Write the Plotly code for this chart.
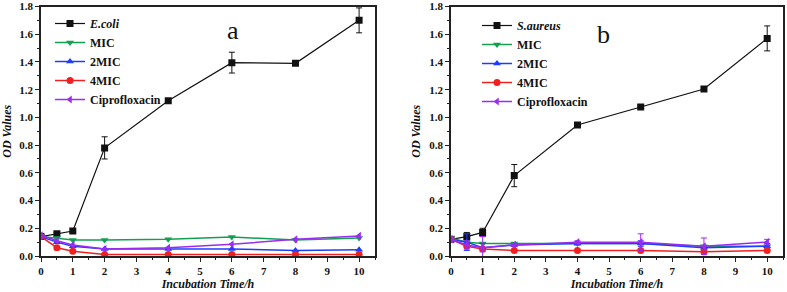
import plotly.graph_objects as go

time = [0, 0.5, 1, 2, 4, 6, 8, 10]

# Panel a (E. coli)
ecoli = [0.14, 0.16, 0.18, 0.78, 1.12, 1.395, 1.39, 1.70]
ecoli_err = [0.01, 0.01, 0.01, 0.08, 0.01, 0.075, 0.01, 0.09]
a_mic = [0.14, 0.13, 0.115, 0.115, 0.12, 0.137, 0.115, 0.13]
a_2mic = [0.14, 0.10, 0.07, 0.05, 0.05, 0.05, 0.04, 0.045]
a_4mic = [0.14, 0.06, 0.035, 0.01, 0.01, 0.01, 0.01, 0.01]
a_cip = [0.15, 0.11, 0.08, 0.05, 0.06, 0.085, 0.12, 0.145]

# Panel b (S. aureus)
saureus = [0.12, 0.14, 0.17, 0.58, 0.945, 1.075, 1.205, 1.57]
saureus_err = [0.01, 0.03, 0.03, 0.08, 0.01, 0.01, 0.01, 0.09]
b_mic = [0.13, 0.10, 0.09, 0.09, 0.09, 0.09, 0.07, 0.07]
b_2mic = [0.12, 0.10, 0.06, 0.08, 0.09, 0.09, 0.06, 0.07]
b_2mic_err = [0.01, 0.06, 0.03, 0.01, 0.01, 0.02, 0.01, 0.02]
b_4mic = [0.12, 0.07, 0.05, 0.04, 0.04, 0.04, 0.03, 0.04]
b_cip = [0.12, 0.08, 0.06, 0.08, 0.10, 0.10, 0.07, 0.10]
b_cip_err = [0.01, 0.03, 0.08, 0.01, 0.01, 0.06, 0.06, 0.02]

x_ticks = [0, 1, 2, 3, 4, 5, 6, 7, 8, 9, 10]
y_ticks = [0.0, 0.2, 0.4, 0.6, 0.8, 1.0, 1.2, 1.4, 1.6, 1.8]

FONT = "Liberation Serif"
BLACK = "#111111"
GREEN = "#12a050"
BLUE = "#1e3cff"
RED = "#f02020"
PURPLE = "#9a2cf0"

fig = go.Figure()

def add(x, y, name, color, symbol, xa, ya, legend, err=None, lw=1.5):
    fig.add_trace(go.Scatter(
        x=x, y=y, name=name, mode="lines+markers",
        line=dict(color=color, width=lw),
        marker=dict(color=color, symbol=symbol, size=7),
        error_y=dict(type="data", array=err, visible=err is not None,
                     color=color, thickness=1, width=3),
        xaxis=xa, yaxis=ya, legend=legend,
    ))

add(time, ecoli, "<i>E.coli</i>", BLACK, "square", "x", "y", "legend", ecoli_err, 1.2)
add(time, a_mic, "MIC", GREEN, "triangle-down", "x", "y", "legend")
add(time, a_2mic, "2MIC", BLUE, "triangle-up", "x", "y", "legend")
add(time, a_4mic, "4MIC", RED, "circle", "x", "y", "legend")
add(time, a_cip, "Ciprofloxacin", PURPLE, "triangle-left", "x", "y", "legend")

add(time, saureus, "<i>S.aureus</i>", BLACK, "square", "x2", "y2", "legend2", saureus_err, 1.2)
add(time, b_mic, "MIC", GREEN, "triangle-down", "x2", "y2", "legend2")
add(time, b_2mic, "2MIC", BLUE, "triangle-up", "x2", "y2", "legend2", b_2mic_err)
add(time, b_4mic, "4MIC", RED, "circle", "x2", "y2", "legend2")
add(time, b_cip, "Ciprofloxacin", PURPLE, "triangle-left", "x2", "y2", "legend2", b_cip_err)

W, H = 787, 292

def px(x):
    return x / W

def py(y):
    return 1 - y / H

ydom = [py(256), py(6.5)]

tickfont = dict(family=FONT, size=11, color="#111", weight="bold")
titlefont = dict(family=FONT, size=12, color="#111", weight="bold", style="italic")

def xaxis(domain, anchor):
    return dict(domain=domain, anchor=anchor, range=[0, 10.5], automargin=False,
                tickvals=x_ticks, ticktext=[str(v) for v in x_ticks],
                ticks="outside", ticklen=4, tickwidth=1, tickcolor="#222",
                minor=dict(dtick=0.5, ticks="outside", ticklen=2, tickcolor="#222"),
                showline=True, linecolor="#222", linewidth=1.5, mirror=True,
                showgrid=False, zeroline=False, tickfont=tickfont,
                title=dict(text="Incubation Time/h", font=titlefont, standoff=3))

def yaxis(domain, anchor):
    return dict(domain=domain, anchor=anchor, range=[0, 1.8], automargin=False,
                tickvals=y_ticks, ticktext=[f"{v:.1f}" for v in y_ticks],
                ticks="outside", ticklen=4, tickwidth=1, tickcolor="#222",
                minor=dict(dtick=0.1, ticks="outside", ticklen=2, tickcolor="#222"),
                showline=True, linecolor="#222", linewidth=1.5, mirror=True,
                showgrid=False, zeroline=False, tickfont=tickfont,
                title=dict(text="OD Values", font=titlefont, standoff=6))

legfont = dict(family=FONT, size=12, color="#111", weight="bold")

fig.update_layout(
    width=W, height=H, autosize=False,
    margin=dict(l=0, r=0, t=0, b=0, autoexpand=False),
    paper_bgcolor="white", plot_bgcolor="white",
    xaxis=xaxis([px(41), px(375)], "y"),
    yaxis=yaxis(ydom, "x"),
    xaxis2=xaxis([px(451), px(783)], "y2"),
    yaxis2=yaxis(ydom, "x2"),
    legend=dict(x=px(50), y=py(9), xanchor="left", yanchor="top",
                font=legfont, bgcolor="rgba(0,0,0,0)", tracegroupgap=0,
                itemwidth=30),
    legend2=dict(x=px(477), y=py(11), xanchor="left", yanchor="top",
                 font=legfont, bgcolor="rgba(0,0,0,0)", tracegroupgap=0,
                 itemwidth=30),
    showlegend=True,
    annotations=[
        dict(text="a", x=px(225), y=py(14), xref="paper", yref="paper",
             showarrow=False, font=dict(family=FONT, size=26, color="#111")),
        dict(text="b", x=px(612), y=py(18), xref="paper", yref="paper",
             showarrow=False, font=dict(family=FONT, size=26, color="#111")),
    ],
)

fig.write_html("out.html", config={"displayModeBar": False},
               post_script="document.body.style.margin='0';document.body.style.overflow='hidden';")
